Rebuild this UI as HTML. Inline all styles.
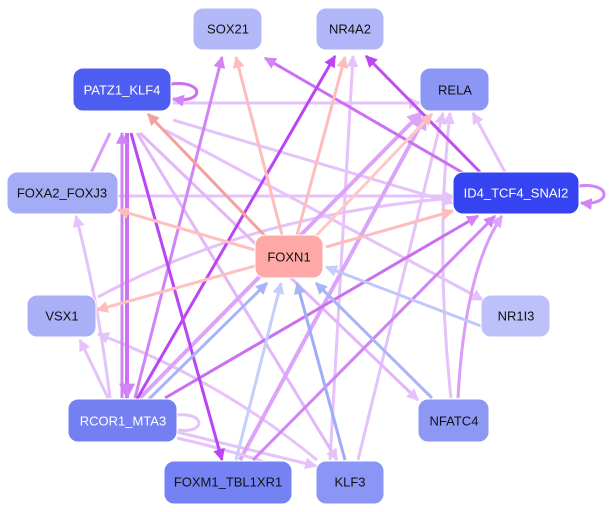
<!DOCTYPE html>
<html><head><meta charset="utf-8"><style>
html,body{margin:0;padding:0;background:#fff;}
svg{display:block;}
text{font-family:"Liberation Sans",sans-serif;font-size:13px;text-anchor:middle;dominant-baseline:central;}
</style></head><body>
<svg width="610" height="512" viewBox="0 0 610 512" xmlns="http://www.w3.org/2000/svg">
<defs>
<marker id="pk" viewBox="0 0 10 10" refX="9" refY="5" markerWidth="4" markerHeight="4" orient="auto"><path d="M0,0L10,5L0,10z" fill="#ffbcbc"/></marker>
<marker id="sal" viewBox="0 0 10 10" refX="9" refY="5" markerWidth="4" markerHeight="4" orient="auto"><path d="M0,0L10,5L0,10z" fill="#f4a0a0"/></marker>
<marker id="bl" viewBox="0 0 10 10" refX="9" refY="5" markerWidth="4" markerHeight="4" orient="auto"><path d="M0,0L10,5L0,10z" fill="#a8b4f8"/></marker>
<marker id="lb" viewBox="0 0 10 10" refX="9" refY="5" markerWidth="4" markerHeight="4" orient="auto"><path d="M0,0L10,5L0,10z" fill="#c6cefa"/></marker>
<marker id="pu" viewBox="0 0 10 10" refX="9" refY="5" markerWidth="4" markerHeight="4" orient="auto"><path d="M0,0L10,5L0,10z" fill="#bb44f4"/></marker>
<marker id="mp" viewBox="0 0 10 10" refX="9" refY="5" markerWidth="4" markerHeight="4" orient="auto"><path d="M0,0L10,5L0,10z" fill="#d084f6"/></marker>
<marker id="lp" viewBox="0 0 10 10" refX="9" refY="5" markerWidth="4" markerHeight="4" orient="auto"><path d="M0,0L10,5L0,10z" fill="#e6c2fa"/></marker>
<marker id="vp" viewBox="0 0 10 10" refX="9" refY="5" markerWidth="4" markerHeight="4" orient="auto"><path d="M0,0L10,5L0,10z" fill="#dba4f8"/></marker>
</defs>
<g fill="none" stroke-width="3">
<!-- light purple edges -->
<line x1="173" y1="103" x2="420" y2="103" stroke="#e6c2fa" marker-end="url(#lp)"/>
<line x1="173" y1="120" x2="453" y2="203" stroke="#e6c2fa" marker-end="url(#lp)"/>
<line x1="165" y1="130" x2="483" y2="300" stroke="#e6c2fa" marker-end="url(#lp)"/>
<line x1="118" y1="196" x2="453" y2="196" stroke="#e6c2fa" marker-end="url(#lp)"/>
<path d="M98,297 Q250,215 453,198" stroke="#e6c2fa" marker-end="url(#lp)"/>
<line x1="108" y1="398" x2="80" y2="340" stroke="#e6c2fa" marker-end="url(#lp)"/>
<path d="M110,398 Q98,300 76,216" stroke="#e6c2fa" marker-end="url(#lp)"/>
<line x1="177" y1="432" x2="316" y2="466" stroke="#e6c2fa" marker-end="url(#lp)"/>
<path d="M317,460 Q220,380 98,334" stroke="#e6c2fa" marker-end="url(#lp)"/>
<line x1="505" y1="172" x2="473" y2="113" stroke="#e6c2fa" marker-end="url(#lp)"/>
<path d="M451,398 Q435,250 450,113" stroke="#e6c2fa" marker-end="url(#lp)"/>
<line x1="358" y1="460" x2="443" y2="113" stroke="#e6c2fa" marker-end="url(#lp)"/>
<line x1="330" y1="460" x2="353" y2="56" stroke="#e6c2fa" marker-end="url(#lp)"/>
<line x1="137" y1="133" x2="337" y2="460" stroke="#e2b6f8" marker-end="url(#lp)"/>
<line x1="140" y1="133" x2="418" y2="400" stroke="#e2b6f8" marker-end="url(#lp)"/>
<line x1="240" y1="460" x2="426" y2="115" stroke="#dba4f8" stroke-width="4" marker-end="url(#vp)"/>
<line x1="140" y1="398" x2="422" y2="112" stroke="#dba4f8" stroke-width="4" marker-end="url(#vp)"/>
<path d="M177,438 Q230,450 290,470" stroke="#e6c2fa"/>
<!-- medium purple -->
<line x1="110" y1="133" x2="78" y2="200" stroke="#d99cf8" marker-end="url(#vp)"/>
<line x1="135" y1="398" x2="222" y2="57" stroke="#d084f6" marker-end="url(#mp)"/>
<line x1="165" y1="398" x2="478" y2="216" stroke="#c870f0" marker-end="url(#mp)"/>
<line x1="253" y1="460" x2="495" y2="216" stroke="#d084f6" marker-end="url(#mp)"/>
<path d="M458,398 Q465,270 502,216" stroke="#d99cf8" marker-end="url(#vp)"/>
<line x1="472" y1="178" x2="265" y2="58" stroke="#cc6ff2" marker-end="url(#mp)"/>
<line x1="127" y1="133" x2="127" y2="398" stroke="#cc70f5" stroke-width="4" marker-end="url(#mp)"/>
<line x1="122" y1="398" x2="122" y2="133" stroke="#d084f6" stroke-width="3" marker-end="url(#mp)"/>
<line x1="131" y1="133" x2="222" y2="460" stroke="#bb44f4" marker-end="url(#pu)"/>
<line x1="137" y1="399" x2="335" y2="56" stroke="#bb44f4" marker-end="url(#pu)"/>
<line x1="480" y1="172" x2="366" y2="56" stroke="#c050f0" marker-end="url(#pu)"/>
<!-- self loops -->
<path d="M171,84 C205,80 205,104 173,99" stroke="#cc70f0" marker-end="url(#mp)"/>
<path d="M579,186 C612,182 612,206 581,203" stroke="#d084f6" marker-end="url(#mp)"/>
<path d="M177,415 C206,412 206,434 178,430" stroke="#e6c2fa"/>
<!-- blue into FOXN1 -->
<line x1="148" y1="400" x2="267" y2="283" stroke="#a8b4f8" marker-end="url(#bl)"/>
<line x1="236" y1="460" x2="281" y2="283" stroke="#c6cefa" marker-end="url(#lb)"/>
<line x1="345" y1="460" x2="297" y2="283" stroke="#a0acf8" marker-end="url(#bl)"/>
<line x1="432" y1="398" x2="316" y2="283" stroke="#a8b4f8" marker-end="url(#bl)"/>
<line x1="481" y1="326" x2="326" y2="267" stroke="#c0c8fa" marker-end="url(#lb)"/>
<!-- pink out of FOXN1 -->
<line x1="282" y1="235" x2="236" y2="57" stroke="#ffbcbc" marker-end="url(#pk)"/>
<line x1="297" y1="235" x2="345" y2="57" stroke="#ffbcbc" marker-end="url(#pk)"/>
<line x1="266" y1="237" x2="148" y2="114" stroke="#f4a0a0" marker-end="url(#sal)"/>
<line x1="314" y1="238" x2="432" y2="114" stroke="#ffc8c8" marker-end="url(#pk)"/>
<line x1="255" y1="250" x2="118" y2="210" stroke="#ffc0c0" marker-end="url(#pk)"/>
<line x1="326" y1="247" x2="453" y2="211" stroke="#ffbcbc" marker-end="url(#pk)"/>
<line x1="255" y1="266" x2="97" y2="310" stroke="#ffc0c0" marker-end="url(#pk)"/>
</g>
<g stroke="#fff" stroke-width="1">
<rect x="193" y="8" width="69" height="42" rx="10" fill="#b3b8f8"/>
<rect x="316" y="8" width="68" height="42" rx="10" fill="#b0b6f8"/>
<rect x="73" y="68" width="98" height="43" rx="10" fill="#4f5ef2"/>
<rect x="420" y="68" width="69" height="43" rx="10" fill="#8c96f5"/>
<rect x="7" y="172" width="111" height="42" rx="10" fill="#a5acf6"/>
<rect x="453" y="172" width="126" height="42" rx="10" fill="#3544f0"/>
<rect x="255" y="235" width="68" height="43" rx="10" fill="#ffa8a8"/>
<rect x="27" y="295" width="69" height="42" rx="10" fill="#aab0f6"/>
<rect x="481" y="295" width="69" height="42" rx="10" fill="#bcc1fa"/>
<rect x="68" y="399" width="109" height="43" rx="10" fill="#7480f2"/>
<rect x="418" y="399" width="71" height="43" rx="10" fill="#8d97f4"/>
<rect x="164" y="461" width="128" height="43" rx="10" fill="#7482f4"/>
<rect x="316" y="461" width="68" height="43" rx="10" fill="#8a95f5"/>
</g>
<g fill="#111">
<text x="228" y="29">SOX21</text>
<text x="350" y="29">NR4A2</text>
<text x="122" y="90" fill="#fff">PATZ1_KLF4</text>
<text x="455" y="90">RELA</text>
<text x="62" y="193">FOXA2_FOXJ3</text>
<text x="516" y="193" fill="#fff">ID4_TCF4_SNAI2</text>
<text x="289" y="257">FOXN1</text>
<text x="62" y="316">VSX1</text>
<text x="516" y="316">NR1I3</text>
<text x="123" y="421" fill="#fff">RCOR1_MTA3</text>
<text x="454" y="421">NFATC4</text>
<text x="228" y="482">FOXM1_TBL1XR1</text>
<text x="350" y="482">KLF3</text>
</g>
</svg>
</body></html>
